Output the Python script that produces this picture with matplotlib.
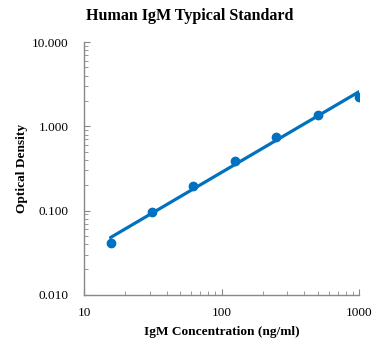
import numpy as np
import matplotlib
matplotlib.use("Agg")
import matplotlib.pyplot as plt
from matplotlib.ticker import FuncFormatter, LogLocator, NullFormatter

# Standard curve readings
conc = [15.6, 31.25, 62.5, 125, 250, 500, 1000]
od = [0.041, 0.096, 0.195, 0.39, 0.745, 1.35, 2.22]

plt.rcParams['font.family'] = ['Liberation Serif', 'DejaVu Serif']
blue = '#0070C0'

fig = plt.figure(figsize=(3.87, 3.51), dpi=100)
ax = fig.add_axes([0.217, 0.160, 0.711, 0.720])

# power trendline fitted in log-log space
k, b = np.polyfit(np.log10(conc), np.log10(od), 1)
xs = np.array([conc[0], conc[-1]])
ax.plot(xs, 10 ** (k * np.log10(xs) + b), color=blue, lw=2.3, solid_capstyle='round')
ax.plot(conc, od, 'o', color=blue, ms=6, zorder=3)

ax.set_xscale('log')
ax.set_yscale('log')
ax.set_xlim(10, 1000)
ax.set_ylim(0.01, 10)

ax.yaxis.set_major_formatter(FuncFormatter(lambda v, p: f"{v:.3f}"))
ax.xaxis.set_major_formatter(FuncFormatter(lambda v, p: f"{v:g}"))
ax.xaxis.set_minor_locator(LogLocator(base=10, subs=np.arange(2, 10)))
ax.yaxis.set_minor_locator(LogLocator(base=10, subs=np.arange(2, 10)))
ax.xaxis.set_minor_formatter(NullFormatter())
ax.yaxis.set_minor_formatter(NullFormatter())

for s in ['top', 'right']:
    ax.spines[s].set_visible(False)
for s in ['left', 'bottom']:
    ax.spines[s].set_color('#888888')
    ax.spines[s].set_linewidth(1.0)
ax.tick_params(which='both', direction='in', color='#888888', labelsize=9.5)
ax.tick_params(which='major', length=4)
ax.tick_params(axis='y', which='major', pad=11)
ax.tick_params(axis='x', which='major', pad=9)
ax.tick_params(which='minor', length=3)

fig.text(0.49, 1 - 16 / 351, "Human IgM Typical Standard", fontsize=11.5,
         fontweight='bold', ha='center', va='center')
ax.set_xlabel("IgM Concentration (ng/ml)", fontsize=9.6, fontweight='bold', labelpad=5)
ax.set_ylabel("Optical Density", fontsize=9.6, fontweight='bold', labelpad=3)

fig.savefig("out.png", dpi=100)
